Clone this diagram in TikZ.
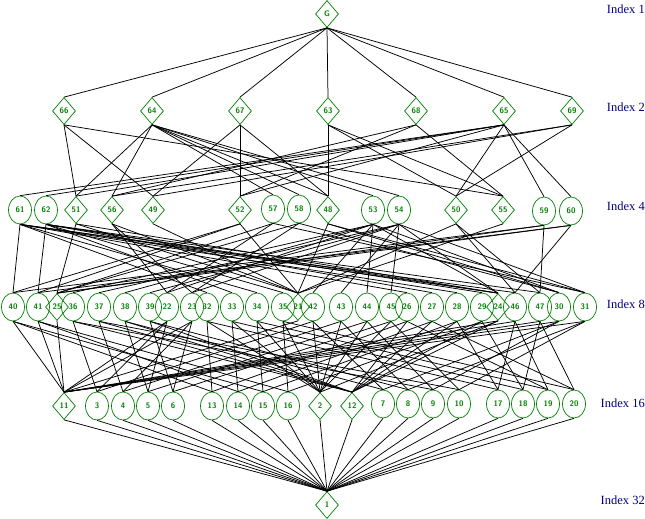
\documentclass[tikz,border=0pt]{standalone}
\usepackage{fontspec}
\usetikzlibrary{shapes.geometric}
\newfontfamily\idxfont{Liberation Serif}
\definecolor{latgreen}{RGB}{0,128,0}
\definecolor{idxblue}{RGB}{0,0,128}
\tikzset{
  sub/.style={draw=latgreen, text=latgreen, inner sep=0pt, line width=0.7pt,
    font=\fontsize{8}{8}\selectfont\sffamily\bfseries},
  nsub/.style={sub, diamond, minimum width=23pt, minimum height=27pt},
  csub/.style={sub, ellipse, minimum width=23pt, minimum height=28pt},
  idx/.style={text=idxblue, anchor=east, inner sep=0pt,
    font=\idxfont\fontsize{12.5}{13}\selectfont},
  inc/.style={line width=0.75pt}
}
\begin{document}
\begin{tikzpicture}[x=1pt,y=-1pt]
\useasboundingbox (0,0) rectangle (645,519);
% level labels
\node[idx] (i1)  at (645,9)   {Index 1};
\node[idx] (i2)  at (645,107) {Index 2};
\node[idx] (i4)  at (645,206) {Index 4};
\node[idx] (i8)  at (645,304) {Index 8};
\node[idx] (i16) at (645,403) {Index 16};
\node[idx] (i32) at (645,500) {Index 32};
% whole group and trivial group
\node[nsub] (nG) at (327,14)  {G};
\node[nsub] (n1) at (327,505) {1};
% index 2
\node[nsub] (n66) at (64,111)  {66};
\node[nsub] (n64) at (152,111) {64};
\node[nsub] (n67) at (240,111) {67};
\node[nsub] (n63) at (328,111) {63};
\node[nsub] (n68) at (416,111) {68};
\node[nsub] (n65) at (504,111) {65};
\node[nsub] (n69) at (572,111) {69};
% index 4
\node[csub] (n61) at (20,210)  {61};
\node[csub] (n62) at (46,210)  {62};
\node[nsub] (n51) at (76,210)  {51};
\node[nsub] (n56) at (112,210) {56};
\node[nsub] (n49) at (153,210) {49};
\node[nsub] (n52) at (240,210) {52};
\node[csub] (n57) at (273,209) {57};
\node[csub] (n58) at (299,209) {58};
\node[nsub] (n48) at (328,210) {48};
\node[csub] (n53) at (373,210) {53};
\node[csub] (n54) at (399,210) {54};
\node[nsub] (n50) at (456,210) {50};
\node[nsub] (n55) at (503,210) {55};
\node[csub] (n59) at (544,211) {59};
\node[csub] (n60) at (571,211) {60};
% index 8
\node[csub] (n40) at (13,307)  {40};
\node[csub] (n41) at (38,307)  {41};
\node[nsub] (n25) at (57,307)  {25};
\node[csub] (n36) at (73,307)  {36};
\node[csub] (n37) at (99,307)  {37};
\node[csub] (n38) at (125,307) {38};
\node[csub] (n39) at (150,307) {39};
\node[csub] (n22) at (167,307) {22};
\node[csub] (n23) at (192,307) {23};
\node[csub] (n32) at (207,307) {32};
\node[csub] (n33) at (232,307) {33};
\node[csub] (n34) at (257,307) {34};
\node[csub] (n35) at (283,307) {35};
\node[nsub] (n21) at (298,307) {21};
\node[csub] (n42) at (313,307) {42};
\node[csub] (n43) at (341,307) {43};
\node[csub] (n44) at (367,307) {44};
\node[csub] (n45) at (391,307) {45};
\node[csub] (n26) at (407,307) {26};
\node[csub] (n27) at (432,307) {27};
\node[csub] (n28) at (457,307) {28};
\node[csub] (n29) at (482,307) {29};
\node[nsub] (n24) at (498,307) {24};
\node[csub] (n46) at (515,307) {46};
\node[csub] (n47) at (540,307) {47};
\node[csub] (n30) at (559,307) {30};
\node[csub] (n31) at (585,307) {31};
% index 16
\node[nsub] (n11) at (64,406)  {11};
\node[csub] (n3)  at (97,406)  {3};
\node[csub] (n4)  at (123,406) {4};
\node[csub] (n5)  at (148,406) {5};
\node[csub] (n6)  at (173,406) {6};
\node[csub] (n13) at (212,406) {13};
\node[csub] (n14) at (238,406) {14};
\node[csub] (n15) at (263,406) {15};
\node[csub] (n16) at (288,406) {16};
\node[nsub] (n2)  at (320,406) {2};
\node[nsub] (n12) at (352,406) {12};
\node[csub] (n7)  at (383,404) {7};
\node[csub] (n8)  at (408,404) {8};
\node[csub] (n9)  at (433,404) {9};
\node[csub] (n10) at (459,404) {10};
\node[csub] (n17) at (498,404) {17};
\node[csub] (n18) at (523,404) {18};
\node[csub] (n19) at (548,404) {19};
\node[csub] (n20) at (574,404) {20};
% inclusions
\foreach \a in {66,64,67,63,68,65,69} \draw[inc] (nG.south) -- (n\a.north);
\foreach \a/\b in {66/49,66/51,66/55, 64/48,64/51,64/56,64/57,64/58,64/53,64/54,
    67/48,67/49,67/52, 63/48,63/50,63/55, 68/52,68/55,68/56,
    65/50,65/51,65/52,65/59,65/60,65/61,65/62, 69/49,69/50,69/56}
  \draw[inc] (n\a.south) -- (n\b.north);
\foreach \a/\b in {49/21,55/21,51/21,51/25,51/24, 56/21,56/22,56/23, 48/21,48/30,48/31,
    52/21,52/40,52/41, 50/21,50/46,50/47, 57/25,57/22,57/31, 58/25,58/23,58/30,
    59/25,59/40,59/47, 60/25,60/41,60/46,
    53/24,53/22,53/30,53/42,53/44,53/36,53/38, 54/24,54/23,54/31,54/43,54/45,54/37,54/39,
    61/24,61/40,61/46,61/32,61/34,61/26,61/28, 62/24,62/41,62/47,62/33,62/35,62/27,62/29}
  \draw[inc] (n\a.south) -- (n\b.north);
\foreach \a/\b in {21/11,25/11,24/11,24/2,24/12,
    22/11,22/3,22/5, 23/11,23/4,23/6, 30/11,30/7,30/9, 31/11,31/8,31/10,
    40/11,40/13,40/15, 41/11,41/14,41/16, 46/11,46/17,46/19, 47/11,47/18,47/20,
    42/2,42/3,42/7, 43/2,43/4,43/8, 44/2,44/5,44/9, 45/2,45/6,45/10,
    36/12,36/3,36/9, 37/12,37/4,37/10, 38/12,38/5,38/7, 39/12,39/6,39/8,
    32/2,32/13,32/17, 33/2,33/14,33/18, 34/2,34/15,34/19, 35/2,35/16,35/20,
    26/12,26/13,26/19, 27/12,27/14,27/20, 28/12,28/15,28/17, 29/12,29/16,29/18}
  \draw[inc] (n\a.south) -- (n\b.north);
\foreach \a in {11,3,4,5,6,13,14,15,16,2,12,7,8,9,10,17,18,19,20}
  \draw[inc] (n\a.south) -- (n1.north);
\end{tikzpicture}
\end{document}
